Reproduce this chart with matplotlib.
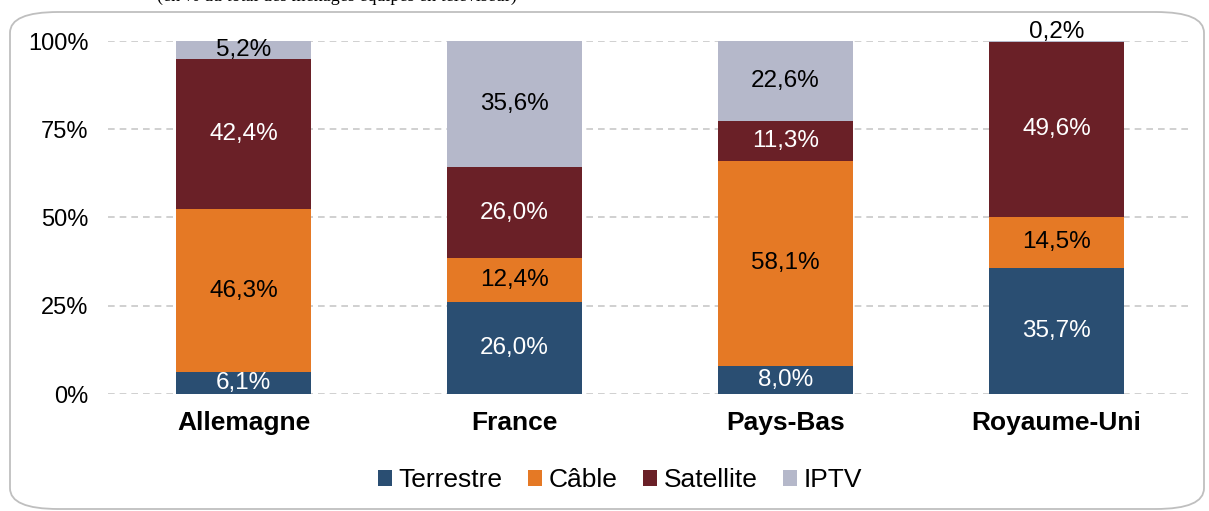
import numpy as np
import matplotlib
matplotlib.use("Agg")
import matplotlib.pyplot as plt
from matplotlib.patches import FancyBboxPatch, Patch

plt.rcParams['font.family'] = ['Liberation Sans', 'DejaVu Sans']

# data (% of TV households by reception mode)
countries = ["Allemagne", "France", "Pays-Bas", "Royaume-Uni"]
series = ["Terrestre", "Câble", "Satellite", "IPTV"]
terrestre = [6.1, 26.0, 8.0, 35.7]
cable = [46.3, 12.4, 58.1, 14.5]
satellite = [42.4, 26.0, 11.3, 49.6]
iptv = [5.2, 35.6, 22.6, 0.2]

colors = ["#2A4E72", "#E57925", "#6A2027", "#B5B8CA"]
label_colors = ["white", "black", "white", "black"]

fig = plt.figure(figsize=(12.09, 5.11), dpi=100)

# rounded frame around the chart
frame = FancyBboxPatch((10 / 1209, 2 / 511), 1194 / 1209, 497 / 511,
                       boxstyle="round,pad=0,rounding_size=0.04",
                       transform=fig.transFigure, facecolor="none",
                       edgecolor="#BFBFBF", linewidth=1.3, mutation_aspect=511 / 1209 * 2.4)
fig.patches.append(frame)

# header line, mostly cut off at the top of the image
fig.text(157 / 1209, 1 - 1 / 511, "(en % du total des ménages équipés en téléviseur)",
         family="Liberation Serif", fontsize=13, va="baseline", ha="left", color="black")

ax = fig.add_axes([108 / 1209, 117 / 511, 1084 / 1209, 353 / 511])

x = np.arange(len(countries))
data = [terrestre, cable, satellite, iptv]
bottom = np.zeros(len(countries))
for vals, name, col, lc in zip(data, series, colors, label_colors):
    vals = np.array(vals)
    ax.bar(x, vals, 0.5, bottom=bottom, color=col, label=name, zorder=3)
    for xi, v, b in zip(x, vals, bottom):
        txt = f"{v:.1f}%".replace(".", ",")
        if v < 1:
            ax.text(xi, b + v - 0.6, txt, ha="center", va="bottom", fontsize=17.5, color="black", zorder=4)
        else:
            ax.text(xi, b + v / 2, txt, ha="center", va="center", fontsize=17.5, color=lc, zorder=4)
    bottom += vals

ax.set_xlim(-0.5, 3.5)
ax.set_ylim(0, 100)
ax.set_yticks([0, 25, 50, 75, 100])
ax.set_yticklabels(["0%", "25%", "50%", "75%", "100%"], fontsize=17)
ax.set_xticks(x)
ax.set_xticklabels(countries, fontsize=19, fontweight="bold")
ax.tick_params(axis="both", length=0)
ax.tick_params(axis="y", pad=14)
ax.tick_params(axis="x", pad=12)
ax.yaxis.grid(True, linestyle=(0, (4, 3)), color="#C8C8C8", linewidth=1.2, zorder=0)
ax.set_axisbelow(True)
for s in ax.spines.values():
    s.set_visible(False)
ax.patch.set_alpha(0)

handles = [Patch(facecolor=c, label=n) for c, n in zip(colors, series)]
fig.legend(handles=handles, loc="center", bbox_to_anchor=(620 / 1209, 31 / 511),
           ncol=4, frameon=False, fontsize=19, handlelength=0.55, handleheight=0.55,
           handletextpad=0.25, columnspacing=0.95)

fig.savefig("out.png", dpi=100)
